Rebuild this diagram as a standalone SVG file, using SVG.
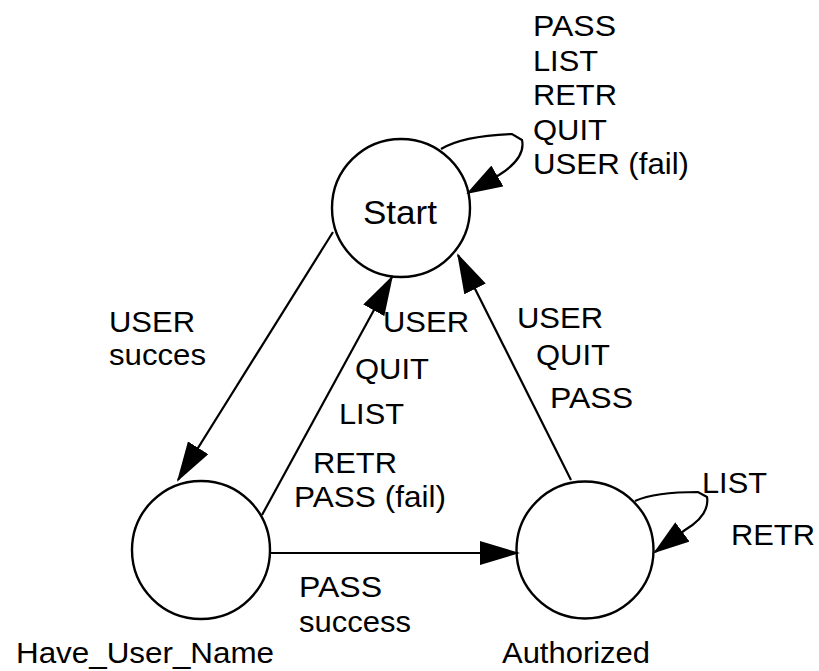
<svg xmlns="http://www.w3.org/2000/svg" width="819" height="671" viewBox="0 0 819 671">
  <style>
    .state { fill: #ffffff; stroke: #000000; stroke-width: 2.4; }
    .edge { fill: none; stroke: #000000; stroke-width: 2.2; }
    .lbl { font-family: "Liberation Sans", Arial, Helvetica, sans-serif; font-size: 29px; fill: #000000; }
    .big { font-size: 33px; }
  </style>
  <defs>
    <marker id="arrow" markerUnits="userSpaceOnUse" markerWidth="42" markerHeight="24" refX="38" refY="12" orient="auto">
      <path d="M0,0 L40,12 L0,24 z" fill="#000000"/>
    </marker>
    <marker id="arrow-loop" markerUnits="userSpaceOnUse" markerWidth="38" markerHeight="24" refX="34" refY="12" orient="auto">
      <path d="M0,0 L36,12 L0,24 z" fill="#000000"/>
    </marker>
  </defs>

  <rect width="819" height="671" fill="#ffffff"/>

  <!-- states -->
  <g id="node-start">
    <circle class="state" cx="401" cy="208" r="69"/>
    <text class="lbl big" x="363" y="224" textLength="74" lengthAdjust="spacingAndGlyphs">Start</text>
  </g>
  <g id="node-have-user-name">
    <circle class="state" cx="201" cy="550" r="69"/>
    <text class="lbl" x="16" y="663" textLength="258" lengthAdjust="spacingAndGlyphs">Have_User_Name</text>
  </g>
  <g id="node-authorized">
    <circle class="state" cx="585" cy="550" r="68.5"/>
    <text class="lbl" x="502" y="663" textLength="148" lengthAdjust="spacingAndGlyphs">Authorized</text>
  </g>

  <!-- transitions -->
  <g id="connectors">
    <!-- Start -> Have_User_Name -->
    <path class="edge" d="M333,232 L178,480" marker-end="url(#arrow)"/>
    <!-- Have_User_Name -> Start -->
    <path class="edge" d="M262,515 L392,277" marker-end="url(#arrow)"/>
    <!-- Authorized -> Start -->
    <path class="edge" d="M571,480 L458,255" marker-end="url(#arrow)"/>
    <!-- Have_User_Name -> Authorized -->
    <path class="edge" d="M271,553 L518,553" marker-end="url(#arrow)"/>
    <!-- Start self loop -->
    <path class="edge" d="M441,149 Q462,136 512,134 L522,140 Q526,158 499,175 L468,193" marker-end="url(#arrow-loop)"/>
    <!-- Authorized self loop -->
    <path class="edge" d="M635,501 Q655,492 698,492 L707,497 Q710,515 685,530 L655,552" marker-end="url(#arrow-loop)"/>
  </g>

  <!-- transition labels -->
  <g id="edge-labels">
    <text class="lbl" x="533" y="36" textLength="83" lengthAdjust="spacingAndGlyphs">PASS</text>
    <text class="lbl" x="533" y="70.5" textLength="65" lengthAdjust="spacingAndGlyphs">LIST</text>
    <text class="lbl" x="533" y="105" textLength="84" lengthAdjust="spacingAndGlyphs">RETR</text>
    <text class="lbl" x="533" y="139.5" textLength="74" lengthAdjust="spacingAndGlyphs">QUIT</text>
    <text class="lbl" x="533" y="174" textLength="156" lengthAdjust="spacingAndGlyphs">USER (fail)</text>

    <text class="lbl" x="109" y="332" textLength="86" lengthAdjust="spacingAndGlyphs">USER</text>
    <text class="lbl" x="109" y="365" textLength="97" lengthAdjust="spacingAndGlyphs">succes</text>

    <text class="lbl" x="383" y="332" textLength="86" lengthAdjust="spacingAndGlyphs">USER</text>
    <text class="lbl" x="355" y="379" textLength="74" lengthAdjust="spacingAndGlyphs">QUIT</text>
    <text class="lbl" x="339" y="424" textLength="65" lengthAdjust="spacingAndGlyphs">LIST</text>
    <text class="lbl" x="313" y="473" textLength="84" lengthAdjust="spacingAndGlyphs">RETR</text>
    <text class="lbl" x="294" y="507" textLength="152" lengthAdjust="spacingAndGlyphs">PASS (fail)</text>

    <text class="lbl" x="517" y="328" textLength="86" lengthAdjust="spacingAndGlyphs">USER</text>
    <text class="lbl" x="536" y="365" textLength="74" lengthAdjust="spacingAndGlyphs">QUIT</text>
    <text class="lbl" x="550" y="408" textLength="83" lengthAdjust="spacingAndGlyphs">PASS</text>

    <text class="lbl" x="299" y="597" textLength="83" lengthAdjust="spacingAndGlyphs">PASS</text>
    <text class="lbl" x="299" y="632" textLength="112" lengthAdjust="spacingAndGlyphs">success</text>

    <text class="lbl" x="702" y="493" textLength="65" lengthAdjust="spacingAndGlyphs">LIST</text>
    <text class="lbl" x="731" y="545" textLength="84" lengthAdjust="spacingAndGlyphs">RETR</text>
  </g>
</svg>
